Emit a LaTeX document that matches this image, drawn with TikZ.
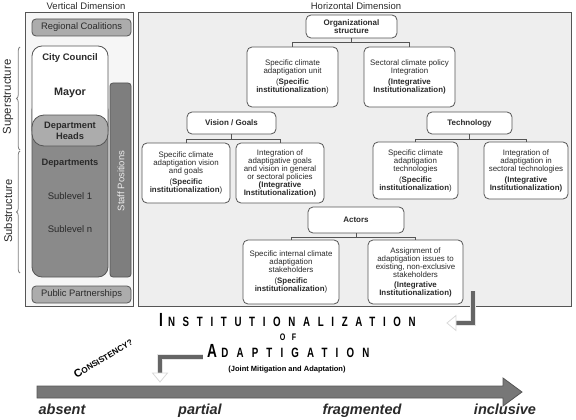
\documentclass[tikz,border=0pt]{standalone}
\usepackage{fontspec}
\setmainfont{Liberation Sans}
\usetikzlibrary{decorations.pathreplacing}
\definecolor{lineC}{HTML}{555555}
\definecolor{panelR}{HTML}{EEEEEE}
\definecolor{panelL}{HTML}{F6F6F6}
\definecolor{darkF}{HTML}{8A8A8A}
\definecolor{midF}{HTML}{ACACAC}
\definecolor{staffF}{HTML}{7E7E7E}
\definecolor{arrF}{HTML}{777777}
\definecolor{txtC}{HTML}{2A2A2A}
\begin{document}
\begin{tikzpicture}[x=1pt,y=-1pt,
  box/.style={draw=lineC, fill=white, rounded corners=5pt, line width=0.8pt, align=center,
    font=\fontsize{7.9}{8}\selectfont, inner sep=1pt, text=txtC},
  head/.style={box, font=\fontsize{8}{8.2}\selectfont\bfseries},
  conn/.style={draw=lineC, line width=0.8pt},
  graybox/.style={draw=lineC, fill=midF, rounded corners=4pt, line width=0.8pt, font=\fontsize{9.4}{10}\selectfont, text=txtC},
  coltext/.style={font=\fontsize{9.5}{10.5}\selectfont, text=txtC, align=center},
  dimlabel/.style={font=\fontsize{9.5}{10}\selectfont, text=txtC},
  bracebr/.style={draw=gray, line width=0.8pt, decorate, decoration={brace, amplitude=3.5pt}},
  scale label/.style={font=\fontsize{14.5}{14.5}\selectfont\bfseries\itshape, text=txtC, anchor=base},
  bentarrow/.style={line width=3.4pt, draw=arrF!85!black},
  bentshadow/.style={line width=5.6pt, draw=white!80!gray},
  whitehead/.style={fill=white, draw=white!70!gray, line width=0.8pt}
]
\useasboundingbox (0,0) rectangle (576,420);

% ---------- left panel ----------
\node[dimlabel] (vdim) at (86,6) {Vertical Dimension};
\draw[draw=lineC, fill=panelL, line width=1pt] (25,13) rectangle (133,306);
\node[graybox, minimum width=99pt, minimum height=17pt] (reg) at (81.5,27.5) {Regional Coalitions};
\node[graybox, minimum width=99pt, minimum height=17pt] (pub) at (81.5,294.5) {Public Partnerships};

\draw[draw=lineC, fill=darkF, line width=0.8pt, rounded corners=10pt] (32,100) rectangle (108,277);
\draw[draw=lineC, fill=white, line width=0.8pt, rounded corners=10pt] (32,46) rectangle (108,140);
\draw[draw=lineC, fill=midF, line width=0.8pt, rounded corners=12pt] (32,115) rectangle (108,146);
\draw[draw=lineC, fill=staffF, line width=0.8pt, rounded corners=3pt] (110,83) rectangle (131,277);

\node[coltext, font=\fontsize{9.5}{10}\selectfont\bfseries] (cc) at (70,58) {City Council};
\node[coltext, font=\fontsize{10.8}{12}\selectfont\bfseries] (mayor) at (70,93) {Mayor};
\node[coltext, font=\fontsize{9.3}{11}\selectfont\bfseries] (dh) at (70,131) {Department\\Heads};
\node[coltext, font=\fontsize{9.3}{10}\selectfont\bfseries] (dep) at (70,163) {Departments};
\node[coltext] (sl1) at (70,196) {Sublevel 1};
\node[coltext] (sln) at (70,229) {Sublevel n};
\node[coltext, text=white!85!gray, rotate=90] (staff) at (121,181) {Staff Positions};

\draw[bracebr] (20,150) -- (20,47);
\draw[bracebr] (20,273) -- (20,151);
\node[dimlabel, font=\fontsize{11.4}{12}\selectfont, rotate=90] (sup) at (8,97) {Superstructure};
\node[dimlabel, font=\fontsize{11.2}{12}\selectfont, rotate=90] (sub) at (8,211) {Substructure};

% ---------- right panel ----------
\node[dimlabel] (hdim) at (356,6) {Horizontal Dimension};
\draw[draw=lineC, fill=panelR, line width=1pt] (138,13) rectangle (571,306);

\node[head, minimum width=91pt, minimum height=23pt] (org) at (351.5,26.5) {Organizational\\structure};
\node[box, minimum width=91pt, minimum height=60pt] (sa) at (292.5,77) {Specific climate\\adaptigation unit\\[3.5pt](\textbf{Specific}\\\textbf{institutionalization})};
\node[box, minimum width=91pt, minimum height=60pt] (sb) at (409.5,77) {Sectoral climate policy\\Integration\\[3.5pt]\textbf{(Integrative}\\\textbf{Institutionalization)}};

\node[head, minimum width=89pt, minimum height=22pt] (vis) at (231.5,123) {Vision / Goals};
\node[box, minimum width=88pt, minimum height=60pt] (va) at (186,173) {Specific climate\\adaptigation vision\\and goals\\[3pt](\textbf{Specific}\\\textbf{institutionalization})};
\node[box, minimum width=88pt, minimum height=60pt] (vb) at (280,173) {Integration of\\adaptigative goals\\and vision in general\\or sectoral policies\\\textbf{(Integrative}\\\textbf{Institutionalization)}};

\node[head, minimum width=85pt, minimum height=22pt] (tech) at (469.5,123) {Technology};
\node[box, minimum width=85pt, minimum height=57pt] (ta) at (415.5,170.5) {Specific climate\\adaptigation\\technologies\\[3pt](\textbf{Specific}\\\textbf{institutionalization})};
\node[box, minimum width=84pt, minimum height=57pt] (tb) at (526,170.5) {Integration of\\adaptigation in\\sectoral technologies\\[3pt]\textbf{(Integrative}\\\textbf{Institutionalization)}};

\node[head, minimum width=96pt, minimum height=26pt] (act) at (356,220) {Actors};
\node[box, minimum width=96pt, minimum height=64pt] (aa) at (291,272) {Specific internal climate\\adaptigation\\stakeholders\\[3pt](\textbf{Specific}\\\textbf{institutionalization})};
\node[box, minimum width=95pt, minimum height=64pt] (ab) at (415.5,272) {Assignment of\\adaptigation issues to\\existing, non-exclusive\\stakeholders\\[2pt]\textbf{(Integrative}\\\textbf{Institutionalization)}};

\draw[conn] (org.south) -- ++(0,4.5) -| (sa.north);
\draw[conn] (org.south) -- ++(0,4.5) -| (sb.north);
\draw[conn] (vis.south) -- ++(0,4.5) -| (va.north);
\draw[conn] (vis.south) -- ++(0,4.5) -| (vb.north);
\draw[conn] (tech.south) -- ++(0,4.5) -| (ta.north);
\draw[conn] (tech.south) -- ++(0,4.5) -| (tb.north);
\draw[conn] (act.south) -- ++(0,3.5) -| (aa.north);
\draw[conn] (act.south) -- ++(0,3.5) -| (ab.north);

% ---------- title ----------
\node[anchor=base west, inner sep=0pt, text=black] (t1) at (159,326.5)
  {\scalebox{0.72}[1]{\fontsize{19}{19}\selectfont\bfseries I\hspace{7pt}\fontsize{13.5}{13.5}\selectfont\addfontfeature{LetterSpace=79}NSTITUTIONALIZATION}};
\node[anchor=base, inner sep=0pt, text=black] (t2) at (288,340.5)
  {\scalebox{0.75}[1]{\fontsize{9.5}{9.5}\selectfont\bfseries\addfontfeature{LetterSpace=90}OF}};
\node[anchor=base west, inner sep=0pt, text=black] (t3) at (207,357)
  {\scalebox{0.72}[1]{\fontsize{19}{19}\selectfont\bfseries A\hspace{6pt}\fontsize{13.5}{13.5}\selectfont\addfontfeature{LetterSpace=84}DAPTIGATION}};
\node[anchor=base, inner sep=0pt, text=black, font=\fontsize{7.5}{8}\selectfont\bfseries] (t4) at (287,371) {(Joint Mitigation and Adaptation)};

\node[rotate=31, inner sep=0pt, text=black] (cons) at (103,358)
  {\bfseries\fontsize{11}{11}\selectfont C\fontsize{8.2}{8.5}\selectfont ONSISTENCY?};

% bent arrows
\coordinate (r1) at (473,291);
\coordinate (r2) at (473,323);
\coordinate (r3) at (456,323);
\draw[bentshadow] (r1) -- (r2) -- (r3);
\draw[bentarrow] (r1) -- (r2) -- (r3);
\draw[whitehead] (456,315.5) -- (447,323) -- (456,330.5) -- cycle;

\coordinate (l1) at (203,357);
\coordinate (l2) at (160,357);
\coordinate (l3) at (160,373);
\draw[bentshadow] (l1) -- (l2) -- (l3);
\draw[bentarrow] (l1) -- (l2) -- (l3);
\draw[whitehead] (152.5,373) -- (160,382) -- (167.5,373) -- cycle;

% big scale arrow
\draw[fill=arrF, draw=lineC, line width=0.8pt] (37,386) -- (503,386) -- (503,378) -- (522,392) -- (503,406) -- (503,398) -- (37,398) -- cycle;
\node[scale label] (absent) at (62,414) {absent};
\node[scale label] (partial) at (200,414) {partial};
\node[scale label] (frag) at (362,414) {fragmented};
\node[scale label] (incl) at (505,414) {inclusive};
\end{tikzpicture}
\end{document}
